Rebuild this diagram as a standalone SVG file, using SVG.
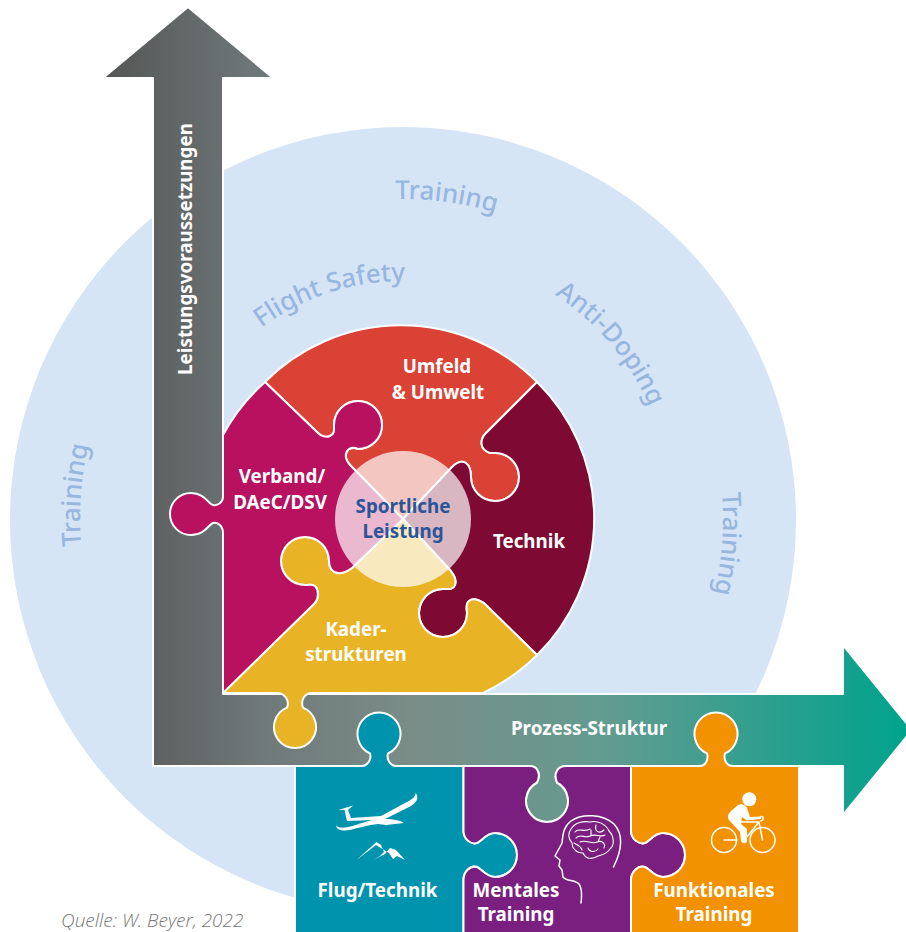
<svg xmlns="http://www.w3.org/2000/svg" width="906" height="932" viewBox="0 0 906 932">
<style>
.p{stroke:#fff;stroke-width:2;stroke-linejoin:round}
.t{font-family:"Noto Sans","Lato",sans-serif;font-weight:700;font-size:18.8px;fill:#fff;text-anchor:middle}
.c{font-family:"Noto Sans","Lato",sans-serif;font-weight:500;font-size:26px;fill:#98b6de;text-anchor:middle}
.ln{fill:none;stroke:#fff;stroke-width:1.5;stroke-linecap:round;stroke-linejoin:round}
</style>
<defs>
<linearGradient id="g" gradientUnits="userSpaceOnUse" x1="105" y1="0" x2="906" y2="0">
<stop offset="0" stop-color="#555655"/><stop offset=".2" stop-color="#70797a"/><stop offset=".38" stop-color="#7a8d87"/><stop offset=".62" stop-color="#649b90"/><stop offset="1" stop-color="#00a38d"/>
</linearGradient>
<path id="a1" d="M281.6,223 A320,320 0 0 1 598.7,265.8"/>
<path id="a2" d="M212.9,375.8 A238,238 0 0 1 472.6,291.4"/>
<path id="a3" d="M478,260.5 A260,260 0 0 1 670.9,488"/>
<path id="a4" d="M691.6,380.7 A320,320 0 0 1 667,699.8"/>
<path id="a5" d="M112.2,659.6 A323,323 0 0 1 135.8,337.4"/>
</defs>
<circle id="background" cx="403" cy="520" r="393" fill="#d5e5f6"/>
<g id="labels-outer">
<text class="c"><textPath href="#a1" startOffset="50%">Training</textPath></text>
<text class="c"><textPath href="#a2" startOffset="50%">Flight Safety</textPath></text>
<text class="c"><textPath href="#a3" startOffset="50%">Anti-Doping</textPath></text>
<text class="c"><textPath href="#a4" startOffset="50%">Training</textPath></text>
<text class="c"><textPath href="#a5" startOffset="50%">Training</textPath></text>
</g>
<g id="connectors">
<path class="p" fill="url(#g)" d="M188,7 L273,78 L223,78 L223,694 L843,694 L843,645 L912,730 L843,815 L843,766 L566,766 C558,766 553,773 557,782.5 A21,21 0 1 1 537,782.5 C541,775 538,766 530,766 L153,766 L153,78 L103,78 Z"/>
<text class="t" transform="translate(192,249) rotate(-90)">Leistungsvoraussetzungen</text>
<text class="t" x="589" y="735">Prozess-Struktur</text>
</g>
<g id="umfeld">
<path class="p" fill="#d94235" d="M265,382 A191.5,191.5 0 0 1 537,382 L486,433 C480,439 480,447 486,451 C490,454 492,453 495,453 A24,24 0 1 1 471,477 C471,470 470,466 466,463 C461,460 456,463 452,467 L403,519 L350,465 C344,458 345,452 349,449 C353,447 356,448 358,449 A24,24 0 1 0 334,425 C334,430 335,434 330,436 C326,438 321,436 318,433 Z"/>
<text class="t" x="437" y="373">Umfeld</text><text class="t" x="438" y="399">&amp; Umwelt</text>
</g>
<g id="technik">
<path class="p" fill="#7e0a33" d="M537,382 A191.5,191.5 0 0 1 537,655 L488,607 C483,601 474,597 469,601 C465,604 467,610 467,613 A24,24 0 1 1 443,589 C449,589 453,590 455,585 C457,579 453,574 450,570 L403,519 L452,467 C456,463 461,460 466,463 C470,466 471,470 471,477 A24,24 0 1 0 495,453 C492,453 490,454 486,451 C480,447 480,439 486,433 Z"/>
<text class="t" x="529" y="548">Technik</text>
</g>
<g id="kader">
<path class="p" fill="#e8b425" d="M223,693 L314,604 C319,599 319,590 315,586 C312,584 308,585 305,585 A24,24 0 1 1 329,561 C329,567 331,572 338,573 C344,574 349,570 352,568 L403,519 L450,570 C453,574 457,579 455,585 C453,590 449,589 443,589 A24,24 0 1 0 467,613 C467,610 465,604 469,601 C474,597 483,601 488,607 L537,655 A191.5,191.5 0 0 1 483,693 L312,693 C305,693 300,700 303,707.6 A21,21 0 1 1 287,707.6 C290,700 284,693 277,693 Z"/>
<text class="t" x="356" y="636">Kader-</text><text class="t" x="356" y="661">strukturen</text>
</g>
<g id="verband">
<path class="p" fill="#b7115f" d="M265,382 L318,433 C321,436 326,438 330,436 C335,434 334,430 334,425 A24,24 0 1 1 358,449 C356,448 353,447 349,449 C345,452 344,458 350,465 L403,519 L352,568 C349,570 344,574 338,573 C331,572 329,567 329,561 A24,24 0 1 0 305,585 C308,585 312,584 315,586 C319,590 319,599 314,604 L223,693 L223,533 C223,526 218,522 213,523 C209,524 205,535 191,535 A21,21 0 1 1 191,493 C205,493 208,504 213,505 C218,506 223,502 223,497 L223,435 A195,195 0 0 1 265,382 Z"/>
<text class="t" x="282" y="483">Verband/</text><text class="t" x="280" y="509">DAeC/DSV</text>
</g>
<g id="sportliche-leistung">
<circle cx="403" cy="519" r="68" fill="#fff" fill-opacity=".7"/>
<text class="t" x="403" y="513" style="fill:#2b5597">Sportliche</text><text class="t" x="403" y="538" style="fill:#2b5597">Leistung</text>
</g>
<g id="flug-technik">
<path class="p" fill="#0093ad" d="M295,766 L362,766 C367,766 372,760 370,753.5 A21.5,21.5 0 1 1 388,753.5 C386,760 391,766 396,766 L463.5,766 L463.5,831 C463.5,838 470,845 477,843 C482,841 486,833 495,833 A22,22 0 1 1 495,877 C486,877 482,869 477,867 C470,865 463.5,872 463.5,880 L463.5,940 L295,940 Z"/>
<path fill="#fff" d="M415.7,793 C419,798 417,802 411,806 L385,819 C392,819 400,820 404,823 L386,825 L378,824 C368,825 358,828 350,830 C344,831 337,831 336,825.5 L338,827 C345,829 352,826 362,823 L372,820 L347,821 L344.5,810 L338.5,810 L353,805.5 L348,810 L351,818 L381,816 L405,803 C411,800 415,798 415.7,793 Z"/>
<path fill="#fff" d="M356.5,860 L376.5,842 L381,845 L384,852 L380,856 L373,860 L385,854 L390,848 L396,850 L405,860 L397,856 L393,859 L389,853 L384,850 L376,845 Z"/>
<text class="t" x="377.5" y="897">Flug/Technik</text>
</g>
<g id="mentales-training">
<path class="p" fill="#7a1f80" d="M463.5,766 L530,766 C538,766 541,775 537,782.5 A21,21 0 1 0 557,782.5 C553,773 558,766 566,766 L631,766 L631,831 C631,838 638,845 645,843 C650,841 654,833 663,833 A22,22 0 1 1 663,877 C654,877 650,869 645,867 C638,865 631,872 631,880 L631,940 L463.5,940 L463.5,880 C463.5,872 470,865 477,867 C482,869 486,877 495,877 A22,22 0 1 0 495,833 C486,833 482,841 477,843 C470,845 463.5,838 463.5,831 Z"/>
<path class="ln" d="M613.5,867 C622,850 624,835 614,824 C603,814 582,813 571,821 C563,827 563,835 562,843 L555,856 L560,860 L559,866 L562,870 L563,877 C566,881 572,880 576,882 C582,884 582,895 581,903"/>
<path class="ln" style="stroke-width:1.1" d="M571,829 C575,822 584,821 590,822 C597,820 606,824 609,831 C614,836 615,845 610,849 C606,855 600,855 596,857 C590,860 585,858 583,853 C576,853 572,848 572,843 C568,838 568,833 571,829 M575,832 C578,827 584,833 590,829 M596,825 C594,832 600,834 604,830 M576,838 C581,833 584,839 590,836 C596,833 600,838 605,835 M580,842 C586,839 592,845 597,842 C602,840 606,844 604,848 M588,848 C590,853 596,852 598,849 M574,843 C578,845 581,846 582,850 M591,830 L591,836 M598,842 L600,837"/>
<text class="t" x="516" y="897">Mentales</text><text class="t" x="516" y="921">Training</text>
</g>
<g id="funktionales-training">
<path class="p" fill="#f39200" d="M631,766 L700,766 C705,766 709,760 707,753.5 A21.5,21.5 0 1 1 725,753.5 C723,760 727,766 733,766 L799,766 L799,940 L631,940 L631,880 C631,872 638,865 645,867 C650,869 654,877 663,877 A22,22 0 1 0 663,833 C654,833 650,841 645,843 C638,845 631,838 631,831 Z"/>
<circle cx="749.3" cy="799.3" r="7" fill="#fff"/>
<circle class="ln" cx="724" cy="840" r="12.5"/><circle class="ln" cx="762.5" cy="840" r="12.5"/>
<path fill="#fff" d="M738,805 C743,803 747,806 748,811 L750,817 L761,816.5 L761,819 L747,820.5 L742,817 L741,824 L747,829 L747,841 C747,844 742,844 741,841 L740,832 L729,820 C727,817 728,814 731,811 Z"/>
<path class="ln" d="M724,840 L737,840 M741,822 L759,822 L762.5,840 M759,822 L746,838 M761,816.5 C764,816 764,820 761,821"/>
<text class="t" x="714" y="897">Funktionales</text><text class="t" x="714" y="921">Training</text>
</g>
<text id="source" x="61" y="927" font-family="'Open Sans',sans-serif" font-style="italic" font-weight="300" font-size="19" fill="#777">Quelle: W. Beyer, 2022</text>
</svg>
